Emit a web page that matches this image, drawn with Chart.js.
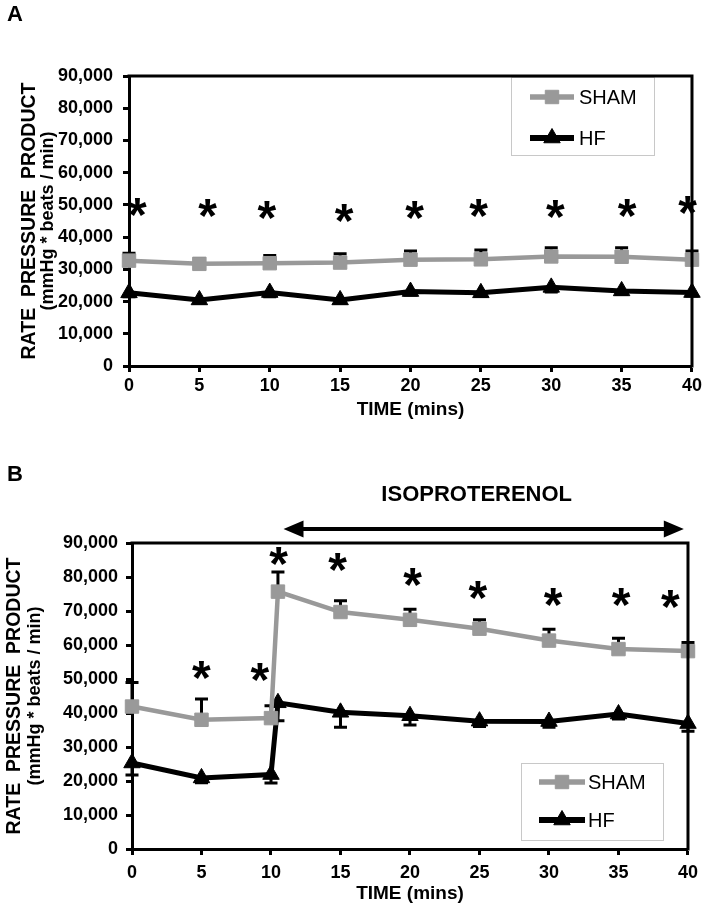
<!DOCTYPE html>
<html>
<head>
<meta charset="utf-8">
<script src="https://cdn.jsdelivr.net/npm/chart.js@4.4.1/dist/chart.umd.min.js"></script>
<style>
    html, body { margin: 0; padding: 0; background: #fff; }
    #wrap { position: relative; width: 705px; height: 910px; }
    canvas { position: absolute; left: 0; }
    #chartA { top: 0; }
    #chartB { top: 440px; }
</style>
</head>
<body>
<div id="wrap">
    <canvas id="chartA" width="705" height="440"></canvas>
    <canvas id="chartB" width="705" height="470"></canvas>
</div>
<script>
// Panel A - baseline (no drug)
const timesA = [0, 5, 10, 15, 20, 25, 30, 35, 40]
const shamA = [32700, 31700, 31900, 32100, 33000, 33100, 34000, 33900, 33000]
const shamSemA = [2300, 1600, 2400, 2700, 2700, 2900, 2700, 2800, 2700]
const hfA = [22700, 20500, 22800, 20500, 23100, 22700, 24400, 23300, 22800]
const hfSemA = [1200, 1000, 1300, 1000, 1100, 1100, 1400, 1100, 1100]
const starXA = [0.6, 5.6, 9.8, 15.3, 20.3, 24.85, 30.3, 35.4, 39.7]
const starYA = [49500, 49000, 48400, 47400, 48400, 49000, 48800, 49000, 50000]

// Panel B - isoproterenol from ~10.5 min
const timesB = [0, 5, 10, 10.5, 15, 20, 25, 30, 35, 40]
const shamB = [41900, 38000, 38500, 75700, 69700, 67400, 64800, 61300, 58800, 58200]
const shamSemB = [7100, 6100, 3600, 5800, 3300, 3100, 2600, 3300, 3200, 2500]
const hfB = [25300, 20900, 21900, 43000, 40200, 39200, 37600, 37500, 39700, 36900]
const hfSemB = [3500, 1400, 2500, 5300, 4400, 2700, 1600, 1700, 1500, 2300]
const starXB = [5.0, 9.2, 10.55, 14.8, 20.2, 24.9, 30.3, 35.2, 38.75]
const starYB = [52600, 52000, 86300, 84500, 80100, 76200, 74200, 74000, 73400]
const isoRange = [10.9, 39.7]
const isoLabelX = 24.8

const yTicks = [0, 10000, 20000, 30000, 40000, 50000, 60000, 70000, 80000, 90000]
const seriesNames = ['SHAM', 'HF']

const FONT = '"Liberation Sans", Arial, Helvetica, sans-serif'
const GREY = '#999999'

Chart.defaults.font.family = FONT
Chart.defaults.color = '#000'

// Function to build line datasets from the arrays
function makeDatasets(times, sham, shamSem, hf, hfSem) {
    return [{
        label: seriesNames[0],
        data: times.map((t, i) => ({ x: t, y: sham[i] })),
        borderColor: GREY,
        backgroundColor: GREY,
        borderWidth: 4.5,
        pointStyle: 'rect',
        pointRadius: 9.5,
        pointBorderWidth: 1,
        pointBackgroundColor: GREY,
        pointBorderColor: GREY,
        tension: 0,
        clip: false,
        errors: shamSem,
        errorDir: 1
    }, {
        label: seriesNames[1],
        data: times.map((t, i) => ({ x: t, y: hf[i] })),
        borderColor: '#000',
        backgroundColor: '#000',
        borderWidth: 5,
        pointStyle: 'triangle',
        pointRadius: 9.5,
        pointBorderWidth: 1,
        pointBackgroundColor: '#000',
        pointBorderColor: '#000',
        tension: 0,
        clip: false,
        errors: hfSem,
        errorDir: -1
    }]
}

// Function to build the axes
function makeScales(p) {
    return {
        x: {
            type: 'linear', min: 0, max: 40,
            ticks: { stepSize: 5, color: '#000', font: { size: 18, weight: 'bold' }, padding: p.xPad, maxRotation: 0, autoSkip: false },
            grid: { drawOnChartArea: false, drawTicks: true, tickLength: 6, tickWidth: 3, tickColor: '#000' },
            border: { display: true, color: '#000', width: 3 },
            title: { display: true, text: 'TIME (mins)', color: '#000', font: { size: 19, weight: 'bold' }, padding: { top: 0, bottom: p.titlePad } },
            afterFit: s => { s.height = p.xHeight }
        },
        y: {
            type: 'linear', min: 0, max: 90000,
            afterBuildTicks: s => { s.ticks = yTicks.map(v => ({ value: v })) },
            ticks: { color: '#000', font: { size: 18, weight: 'bold' }, padding: p.yPad, callback: v => v.toLocaleString('en-US') },
            grid: { drawOnChartArea: false, drawTicks: true, tickLength: 6, tickWidth: 3, tickColor: '#000' },
            border: { display: true, color: '#000', width: 3 },
            afterFit: s => { s.width = p.yWidth }
        }
    }
}

// Error bars (SHAM up, HF down) drawn under the markers
const errorBarPlugin = {
    id: 'errorBars',
    beforeDatasetsDraw(chart) {
        const ctx = chart.ctx
        const xs = chart.scales.x, ys = chart.scales.y
        ctx.save()
        ctx.strokeStyle = '#000'
        ctx.lineWidth = 3
        chart.data.datasets.forEach(ds => {
            ds.data.forEach((pt, i) => {
                const x = xs.getPixelForValue(pt.x)
                const y0 = ys.getPixelForValue(pt.y)
                const y1 = ys.getPixelForValue(pt.y + ds.errorDir * ds.errors[i])
                ctx.beginPath()
                ctx.moveTo(x, y0)
                ctx.lineTo(x, y1)
                ctx.moveTo(x - 6.5, y1)
                ctx.lineTo(x + 6.5, y1)
                ctx.stroke()
            })
        })
        ctx.restore()
    }
}

// Function to draw an asterisk centred on a point
function drawStar(ctx, cx, cy) {
    ctx.font = 'bold 48px ' + FONT
    ctx.textAlign = 'left'
    ctx.textBaseline = 'alphabetic'
    const m = ctx.measureText('*')
    const dx = (m.actualBoundingBoxRight - m.actualBoundingBoxLeft) / 2
    const dy = (m.actualBoundingBoxAscent - m.actualBoundingBoxDescent) / 2
    ctx.fillText('*', cx - dx, cy + dy)
}

// Decorations: legend, frame, asterisks, titles
const decorPlugin = {
    id: 'decor',
    afterDraw(chart, args, o) {
        const ctx = chart.ctx
        const a = chart.chartArea
        const xs = chart.scales.x, ys = chart.scales.y
        ctx.save()

        // legend box
        const lb = o.legend
        ctx.fillStyle = '#fff'
        ctx.fillRect(lb.x, lb.y, lb.w, lb.h)
        ctx.strokeStyle = '#c8c8c8'
        ctx.lineWidth = 1
        ctx.strokeRect(lb.x + 0.5, lb.y + 0.5, lb.w, lb.h)
        chart.data.datasets.forEach((ds, i) => {
            const ry = lb.rows[i]
            ctx.strokeStyle = ds.borderColor
            ctx.lineWidth = ds.borderWidth + 1
            ctx.beginPath()
            ctx.moveTo(lb.lineX[0], ry)
            ctx.lineTo(lb.lineX[1], ry)
            ctx.stroke()
            ctx.fillStyle = ds.pointBackgroundColor
            ctx.strokeStyle = ds.pointBorderColor
            ctx.lineWidth = 1
            Chart.helpers.drawPoint(ctx, { pointStyle: ds.pointStyle, radius: ds.pointRadius, borderWidth: 1, rotation: 0 },
                (lb.lineX[0] + lb.lineX[1]) / 2, ry)
            ctx.fillStyle = '#000'
            ctx.font = '20px ' + FONT
            ctx.textAlign = 'left'
            ctx.textBaseline = 'middle'
            ctx.fillText(ds.label, lb.textX, ry + 1)
        })

        // top and right frame
        ctx.strokeStyle = '#000'
        ctx.lineWidth = 3
        ctx.beginPath()
        ctx.moveTo(a.left - 1.5, a.top)
        ctx.lineTo(a.right, a.top)
        ctx.lineTo(a.right, a.bottom + 1.5)
        ctx.stroke()

        // significance asterisks
        ctx.fillStyle = '#000'
        o.starX.forEach((sx, i) => drawStar(ctx, xs.getPixelForValue(sx), ys.getPixelForValue(o.starY[i])))

        // panel letter
        ctx.font = 'bold 22px ' + FONT
        ctx.textAlign = 'left'
        ctx.textBaseline = 'alphabetic'
        ctx.fillText(o.letter, 7, o.letterY)

        // y axis title, two lines
        const cy = (a.top + a.bottom) / 2
        ctx.textAlign = 'center'
        ctx.save()
        ctx.translate(o.yTitleX[0], cy)
        ctx.rotate(-Math.PI / 2)
        ctx.font = 'bold 19.5px ' + FONT
        ctx.fillText('RATE  PRESSURE  PRODUCT', 0, 0)
        ctx.restore()
        ctx.save()
        ctx.translate(o.yTitleX[1], cy)
        ctx.rotate(-Math.PI / 2)
        ctx.font = 'bold 18px ' + FONT
        ctx.fillText('(mmHg * beats / min)', 0, 0)
        ctx.restore()

        // drug arrow
        if (o.iso) {
            const xl = xs.getPixelForValue(isoRange[0])
            const xr = xs.getPixelForValue(isoRange[1])
            const y = a.top - 14
            ctx.strokeStyle = '#000'
            ctx.lineWidth = 4
            ctx.beginPath()
            ctx.moveTo(xl + 15, y)
            ctx.lineTo(xr - 15, y)
            ctx.stroke()
            ctx.beginPath()
            ctx.moveTo(xl, y)
            ctx.lineTo(xl + 20, y - 8.5)
            ctx.lineTo(xl + 20, y + 8.5)
            ctx.closePath()
            ctx.moveTo(xr, y)
            ctx.lineTo(xr - 20, y - 8.5)
            ctx.lineTo(xr - 20, y + 8.5)
            ctx.closePath()
            ctx.fill()
            ctx.font = 'bold 22px ' + FONT
            ctx.textAlign = 'center'
            ctx.textBaseline = 'middle'
            ctx.fillText('ISOPROTERENOL', xs.getPixelForValue(isoLabelX), a.top - 48)
        }
        ctx.restore()
    }
}

// Function to create one panel
function makePanel(id, datasets, p, decor) {
    return new Chart(document.getElementById(id), {
        type: 'line',
        data: { datasets: datasets },
        options: {
            responsive: false,
            animation: false,
            devicePixelRatio: 1,
            layout: { padding: { top: p.top, right: p.right, left: 0, bottom: 0 } },
            scales: makeScales(p),
            plugins: {
                legend: { display: false },
                tooltip: { enabled: false },
                decor: decor
            }
        },
        plugins: [errorBarPlugin, decorPlugin]
    })
}

makePanel('chartA', makeDatasets(timesA, shamA, shamSemA, hfA, hfSemA),
    { top: 76, right: 11, yWidth: 129, xHeight: 74, xPad: 3, yPad: 10, titlePad: 19 },
    {
        letter: 'A', letterY: 21, yTitleX: [35, 53],
        starX: starXA, starY: starYA,
        legend: { x: 511, y: 77, w: 143, h: 78, rows: [97, 138], lineX: [530, 574], textX: 579 }
    })

makePanel('chartB', makeDatasets(timesB, shamB, shamSemB, hfB, hfSemB),
    { top: 103, right: 13, yWidth: 132, xHeight: 61, xPad: 7, yPad: 8, titlePad: 5 },
    {
        letter: 'B', letterY: 41, yTitleX: [20, 40], iso: true,
        starX: starXB, starY: starYB,
        legend: { x: 521, y: 323, w: 142, h: 77, rows: [342, 380], lineX: [539, 585], textX: 588 }
    })
</script>
</body>
</html>
